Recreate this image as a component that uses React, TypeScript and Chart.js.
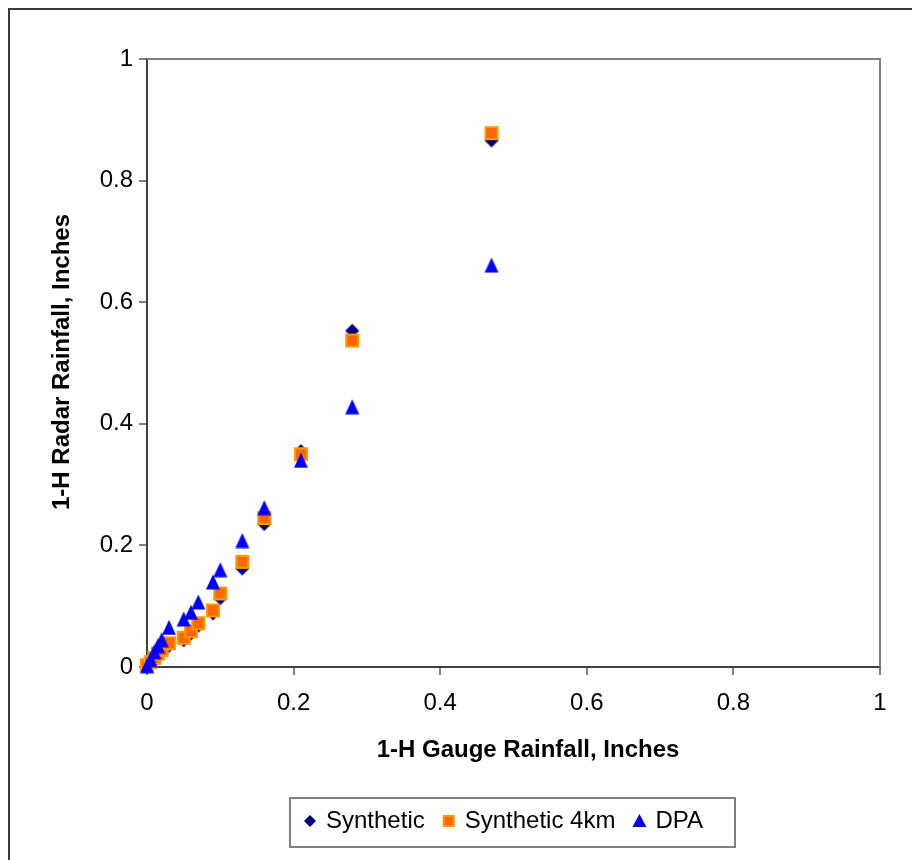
import React, { useEffect, useRef } from "react";
import { Chart, registerables } from "chart.js";

Chart.register(...registerables);

const gaugeX = [0, 0.005, 0.01, 0.015, 0.02, 0.03, 0.05, 0.06, 0.07, 0.09, 0.1, 0.13, 0.16, 0.21, 0.28, 0.47];
const syntheticY = [0, 0.005, 0.012, 0.018, 0.024, 0.035, 0.044, 0.055, 0.068, 0.088, 0.113, 0.162, 0.235, 0.355, 0.553, 0.866];
const synthetic4kmY = [0.003, 0.008, 0.015, 0.022, 0.028, 0.039, 0.048, 0.059, 0.072, 0.093, 0.121, 0.173, 0.245, 0.35, 0.537, 0.878];
const dpaY = [0.002, 0.012, 0.025, 0.035, 0.045, 0.065, 0.079, 0.09, 0.107, 0.14, 0.16, 0.208, 0.262, 0.34, 0.428, 0.661];

const seriesNames = ["Synthetic", "Synthetic 4km", "DPA"];
const xTitle = "1-H Gauge Rainfall, Inches";
const yTitle = "1-H Radar Rainfall, Inches";

const FONT = "'Liberation Sans', Arial, sans-serif";

const pts = (ys: number[]) => gaugeX.map((x, i) => ({ x, y: ys[i] }));

function makeMarker(kind: string): HTMLCanvasElement {
  const c = document.createElement("canvas");
  c.width = 16;
  c.height = 16;
  const g = c.getContext("2d")!;
  if (kind === "diamond") {
    g.fillStyle = "#000080";
    g.beginPath();
    g.moveTo(8, 1);
    g.lineTo(15, 8);
    g.lineTo(8, 15);
    g.lineTo(1, 8);
    g.closePath();
    g.fill();
  } else if (kind === "square") {
    g.fillStyle = "#FF9900";
    g.fillRect(1, 1, 14, 14);
    g.fillStyle = "#FF6600";
    g.fillRect(3, 3, 10, 10);
  } else {
    g.fillStyle = "#0000FF";
    g.beginPath();
    g.moveTo(8, 0.5);
    g.lineTo(15, 15.5);
    g.lineTo(1, 15.5);
    g.closePath();
    g.fill();
  }
  return c;
}

export default function App() {
  const ref = useRef<HTMLCanvasElement | null>(null);
  useEffect(() => {
    if (!ref.current) return;
    const decor = {
      id: "decor",
      beforeDatasetsDraw(chart: any) {
        const { ctx, chartArea: a } = chart;
        ctx.save();
        ctx.strokeStyle = "#808080";
        ctx.lineWidth = 2;
        ctx.beginPath();
        ctx.moveTo(a.left, a.top);
        ctx.lineTo(a.right, a.top);
        ctx.lineTo(a.right, a.bottom);
        ctx.stroke();
        ctx.restore();
      },
      afterDraw(chart: any) {
        const { ctx } = chart;
        ctx.save();
        // outer frame
        ctx.fillStyle = "#3a3a3a";
        ctx.fillRect(0, 0, chart.width, 2);
        ctx.fillRect(0, 0, 2, chart.height);
        // axis titles
        ctx.fillStyle = "#000";
        ctx.font = `bold 24px ${FONT}`;
        ctx.textAlign = "center";
        ctx.textBaseline = "middle";
        ctx.fillText(xTitle, 520, 742);
        ctx.save();
        ctx.translate(54, 354);
        ctx.rotate(-Math.PI / 2);
        ctx.fillText(yTitle, 0, 0);
        ctx.restore();
        // legend
        const bx = 282, by = 790, bw = 445, bh = 49;
        ctx.strokeStyle = "#808080";
        ctx.lineWidth = 2;
        ctx.strokeRect(bx, by, bw, bh);
        const cy = 813;
        ctx.font = `24px ${FONT}`;
        ctx.textAlign = "left";
        let x = bx + 20;
        seriesNames.forEach((name, i) => {
          if (i === 0) {
            ctx.fillStyle = "#000080";
            ctx.beginPath();
            ctx.moveTo(x, cy - 6);
            ctx.lineTo(x + 6, cy);
            ctx.lineTo(x, cy + 6);
            ctx.lineTo(x - 6, cy);
            ctx.closePath();
            ctx.fill();
          } else if (i === 1) {
            ctx.fillStyle = "#FF9900";
            ctx.fillRect(x - 6, cy - 6, 12, 12);
            ctx.fillStyle = "#FF6600";
            ctx.fillRect(x - 4, cy - 4, 8, 8);
          } else {
            ctx.fillStyle = "#0000FF";
            ctx.beginPath();
            ctx.moveTo(x, cy - 7);
            ctx.lineTo(x + 7, cy + 6);
            ctx.lineTo(x - 7, cy + 6);
            ctx.closePath();
            ctx.fill();
          }
          const tx = x + 16;
          ctx.fillStyle = "#000";
          ctx.fillText(name, tx, cy);
          x = tx + ctx.measureText(name).width + 24;
        });
        ctx.restore();
      },
    };
    const tickFont = { family: FONT, size: 24 };
    const fmt = (v: any) => (Number(v) === 1 ? "1" : Number(v) === 0 ? "0" : String(Math.round(Number(v) * 10) / 10));
    const chart = new Chart(ref.current, {
      type: "scatter",
      data: {
        datasets: [
          {
            label: seriesNames[0],
            data: pts(syntheticY),
            pointStyle: makeMarker("diamond"),
            pointRadius: 8,
            clip: false,
            order: 2,
          },
          {
            label: seriesNames[1],
            data: pts(synthetic4kmY),
            pointStyle: makeMarker("square"),
            pointRadius: 8,
            clip: false,
            order: 1,
          },
          {
            label: seriesNames[2],
            data: pts(dpaY),
            pointStyle: makeMarker("triangle"),
            pointRadius: 8,
            clip: false,
            order: 0,
          },
        ],
      },
      options: {
        animation: false,
        responsive: false,
        devicePixelRatio: 1,
        layout: { padding: { top: 51, right: 40, left: 0, bottom: 0 } },
        plugins: { legend: { display: false }, tooltip: { enabled: false } },
        scales: {
          x: {
            type: "linear",
            min: 0,
            max: 1,
            afterFit: (s: any) => { s.height = 193; },
            ticks: { stepSize: 0.2, color: "#000", font: tickFont, padding: 14, maxRotation: 0, callback: fmt },
            grid: { drawOnChartArea: false, drawTicks: true, tickLength: 8, color: "#808080", lineWidth: 2 },
            border: { color: "#404040", width: 2 },
          },
          y: {
            type: "linear",
            min: 0,
            max: 1,
            afterFit: (s: any) => { s.width = 139; },
            ticks: { stepSize: 0.2, color: "#000", font: tickFont, padding: 6, callback: fmt },
            grid: { drawOnChartArea: false, drawTicks: true, tickLength: 8, color: "#808080", lineWidth: 2 },
            border: { color: "#404040", width: 2 },
          },
        },
      },
      plugins: [decor],
    } as any);
    return () => chart.destroy();
  }, []);
  return <canvas ref={ref} width={912} height={852} style={{ display: "block" }} />;
}
